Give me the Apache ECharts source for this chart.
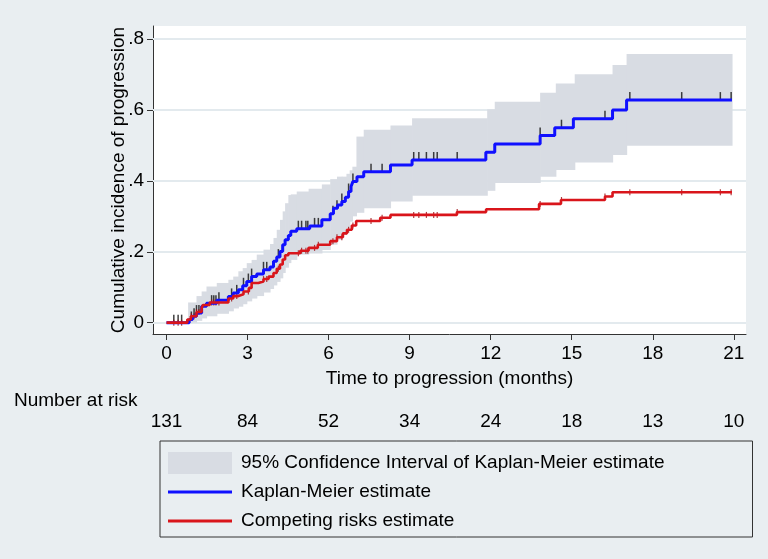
<!DOCTYPE html>
<html>
<head>
<meta charset="utf-8">
<script src="https://cdn.jsdelivr.net/npm/echarts@6/dist/echarts.min.js"></script>
<style>
  html, body { margin: 0; padding: 0; background: #e9eef1; }
  #chart { width: 768px; height: 559px; }
</style>
</head>
<body>
<div id="chart"></div>
<script>
// Kaplan-Meier cumulative incidence (step starts at each time)
const kmTime = [0, 0.84, 0.96, 1.11, 1.30, 1.48, 1.86, 2.29, 2.47, 2.66, 2.82, 2.97, 3.15, 3.34, 3.59, 3.83, 3.96, 4.08, 4.20, 4.30,
    4.39, 4.51, 4.60, 4.82, 5.30, 5.75, 6.06, 6.18, 6.33, 6.49, 6.62, 6.74, 6.83, 6.90, 7.05, 7.30, 8.29, 9.09, 11.82, 12.15,
    13.83, 14.37, 15.06, 16.51, 17.03, 20.93];
const kmVal = [0, .009, .018, .027, .046, .055, .063, .074, .084, .093, .104, .116, .130, .137, .149, .157, .173, .185, .201, .220,
    .234, .246, .258, .265, .273, .290, .307, .323, .332, .342, .354, .370, .384, .398, .412, .426, .445, .459, .481, .504,
    .528, .550, .575, .600, .628, .628];

// competing risks estimate
const crTime = [0, 0.77, 0.90, 1.11, 1.30, 1.35, 1.60, 2.29, 2.47, 2.66, 2.85, 3.05, 3.15, 3.40, 3.59, 3.78, 3.96, 4.08, 4.20, 4.30,
    4.39, 4.51, 4.95, 5.26, 5.60, 6.06, 6.31, 6.53, 6.68, 6.86, 7.02, 7.91, 8.29, 10.75, 11.83, 13.79, 14.60, 16.23, 16.51, 20.93];
const crVal = [0, .009, .018, .030, .041, .050, .057, .068, .075, .080, .088, .098, .112, .116, .123, .130, .140, .152, .164, .178,
    .190, .196, .203, .211, .220, .230, .241, .252, .262, .274, .287, .296, .304, .312, .320, .335, .346, .356, .368, .368];

// 95% CI of Kaplan-Meier
const ciTime = [0.80, 1.11, 1.30, 1.48, 1.86, 2.29, 2.47, 2.66, 2.82, 2.97, 3.15, 3.34, 3.59, 3.83, 3.96, 4.08, 4.20, 4.30, 4.39, 4.51,
    4.60, 4.82, 5.26, 5.75, 6.06, 6.31, 6.49, 6.66, 6.78, 6.88, 7.03, 7.30, 8.29, 9.09, 11.87, 12.15, 13.83, 14.41, 15.11, 16.51,
    17.03, 20.93];
const ciLo = [0, .005, .012, .018, .025, .032, .040, .045, .052, .060, .068, .075, .085, .095, .105, .115, .125, .140, .155, .168,
    .177, .192, .195, .205, .220, .234, .248, .267, .285, .300, .310, .323, .342, .358, .372, .394, .412, .431, .452, .473,
    .499, .499];
const ciHi = [.057, .075, .088, .102, .112, .121, .130, .145, .154, .168, .177, .192, .206, .222, .239, .262, .290, .314, .337, .360,
    .362, .370, .378, .390, .405, .412, .412, .420, .430, .440, .525, .544, .556, .577, .602, .623, .649, .675, .701, .727,
    .758, .758];

// censored observations
const censorTime = [0.27, 0.43, 0.56, 0.92, 1.02, 1.11, 1.20, 1.67, 1.75, 1.83, 1.94, 2.41, 2.60, 2.85, 3.03, 3.15, 3.59, 3.71,
    4.14, 4.88, 5.00, 5.16, 5.23, 5.48, 5.62, 6.16, 6.31, 6.49, 6.74, 6.90, 7.57, 7.98, 9.15, 9.34, 9.62, 9.89, 10.02, 10.76,
    13.83, 14.62, 16.23, 17.15, 19.07, 20.50, 20.90];

const xTicks = [0, 3, 6, 9, 12, 15, 18, 21];
const yTicks = [0, 0.2, 0.4, 0.6, 0.8];
const atRisk = [131, 84, 52, 34, 24, 18, 13, 10];

const FONT = "'Liberation Sans', Arial, sans-serif";
const BAND = '#d8dce3';
const BLUE = '#1010ff';
const RED = '#d9151b';
// legend line icon: invisible moveTo corners keep the 64x22 box, bar is 3px
const LINE_ICON = 'path://M0,0M64,22M0,9.5L64,9.5L64,12.5L0,12.5Z';

function stepAt(times, vals, t) {
    let v = vals[0];
    for (let i = 0; i < times.length; i++) {
        if (times[i] <= t + 1e-9) v = vals[i];
    }
    return v;
}

const zip = (a, b) => a.map((t, i) => [t, b[i]]);
const bandData = ciTime.slice(0, -1).map((t, i) => [t, ciTime[i + 1], ciLo[i], ciHi[i]]);

const chart = echarts.init(document.getElementById('chart'));
chart.setOption({
    backgroundColor: '#e9eef1',
    animation: false,
    textStyle: {fontFamily: FONT},
    title: {
        text: 'Number at risk',
        left: 9, top: 386,
        textStyle: {fontFamily: FONT, fontSize: 19, fontWeight: 'normal', color: '#000'}
    },
    grid: {
        left: 153, right: 22, top: 26, bottom: 225,
        show: true, backgroundColor: '#ffffff', borderWidth: 0
    },
    legend: {
        orient: 'vertical',
        left: 160, top: 441,
        padding: [11, 88, 5, 8],
        itemWidth: 64, itemHeight: 22, itemGap: 7,
        borderColor: '#333', borderWidth: 1,
        selectedMode: false,
        textStyle: {fontFamily: FONT, fontSize: 19, color: '#000', padding: [0, 0, 0, 4]},
        data: [
            {name: '95% Confidence Interval of Kaplan-Meier estimate', icon: 'rect', itemStyle: {color: BAND}},
            {name: 'Kaplan-Meier estimate', icon: LINE_ICON, itemStyle: {color: BLUE}},
            {name: 'Competing risks estimate', icon: LINE_ICON, itemStyle: {color: RED}}
        ]
    },
    xAxis: [{
        type: 'value', min: -0.5, max: 21.45,
        name: 'Time to progression (months)', nameLocation: 'middle', nameGap: 35,
        nameTextStyle: {fontFamily: FONT, fontSize: 19, color: '#000'},
        axisLine: {show: true, onZero: false, lineStyle: {color: '#333', width: 1}},
        axisTick: {show: true, customValues: xTicks, length: 6, lineStyle: {color: '#333'}},
        axisLabel: {customValues: xTicks, fontSize: 19, color: '#000', margin: 10, fontFamily: FONT},
        splitLine: {show: false}
    }, {
        type: 'value', min: -0.5, max: 21.45, position: 'bottom', offset: 70,
        axisLine: {show: false, onZero: false},
        axisTick: {show: false},
        axisLabel: {
            customValues: xTicks, fontSize: 19, color: '#000', margin: 8, fontFamily: FONT,
            formatter: v => String(atRisk[xTicks.indexOf(Math.round(v))])
        },
        splitLine: {show: false}
    }],
    yAxis: {
        type: 'value', min: -0.032, max: 0.837,
        name: 'Cumulative incidence of progression', nameLocation: 'middle', nameGap: 25,
        nameMoveOverlap: false,
        nameTextStyle: {fontFamily: FONT, fontSize: 19, color: '#000'},
        axisLine: {show: true, onZero: false, lineStyle: {color: '#333', width: 1}},
        axisTick: {show: true, customValues: yTicks, length: 6, lineStyle: {color: '#333'}},
        axisLabel: {
            customValues: yTicks, fontSize: 19, color: '#000', margin: 9, fontFamily: FONT,
            formatter: v => v === 0 ? '0' : String(+v.toFixed(1)).replace(/^0/, '')
        },
        splitLine: {show: false}
    },
    series: [{
        name: '95% Confidence Interval of Kaplan-Meier estimate',
        type: 'custom',
        itemStyle: {color: BAND},
        encode: {x: [0, 1], y: [2, 3]},
        data: bandData,
        renderItem: function (params, api) {
            const a = api.coord([api.value(0), api.value(3)]);
            const b = api.coord([api.value(1), api.value(2)]);
            return {
                type: 'rect',
                shape: {x: a[0], y: a[1], width: b[0] - a[0] + 0.6, height: b[1] - a[1]},
                style: {fill: BAND}
            };
        },
        markLine: {
            silent: true, symbol: 'none', z: 1,
            label: {show: false},
            lineStyle: {color: '#e3eaee', width: 2, type: 'solid'},
            data: yTicks.map(v => ({yAxis: v}))
        }
    }, {
        name: 'Kaplan-Meier estimate',
        type: 'line', step: 'end', showSymbol: false, symbol: 'none',
        color: BLUE,
        lineStyle: {color: BLUE, width: 3},
        data: zip(kmTime, kmVal)
    }, {
        name: 'Competing risks estimate',
        type: 'line', step: 'end', showSymbol: false, symbol: 'none',
        color: RED,
        lineStyle: {color: RED, width: 2.6},
        data: zip(crTime, crVal)
    }, {
        type: 'scatter', silent: true,
        symbol: 'rect', symbolSize: [1.5, 8], symbolOffset: [0, -4],
        itemStyle: {color: '#111'},
        data: censorTime.map(t => [t, stepAt(kmTime, kmVal, t)])
    }, {
        type: 'scatter', silent: true,
        symbol: 'rect', symbolSize: [1.2, 6],
        itemStyle: {color: '#9a0d12'},
        data: censorTime.map(t => [t, stepAt(crTime, crVal, t)])
    }]
});
</script>
</body>
</html>
